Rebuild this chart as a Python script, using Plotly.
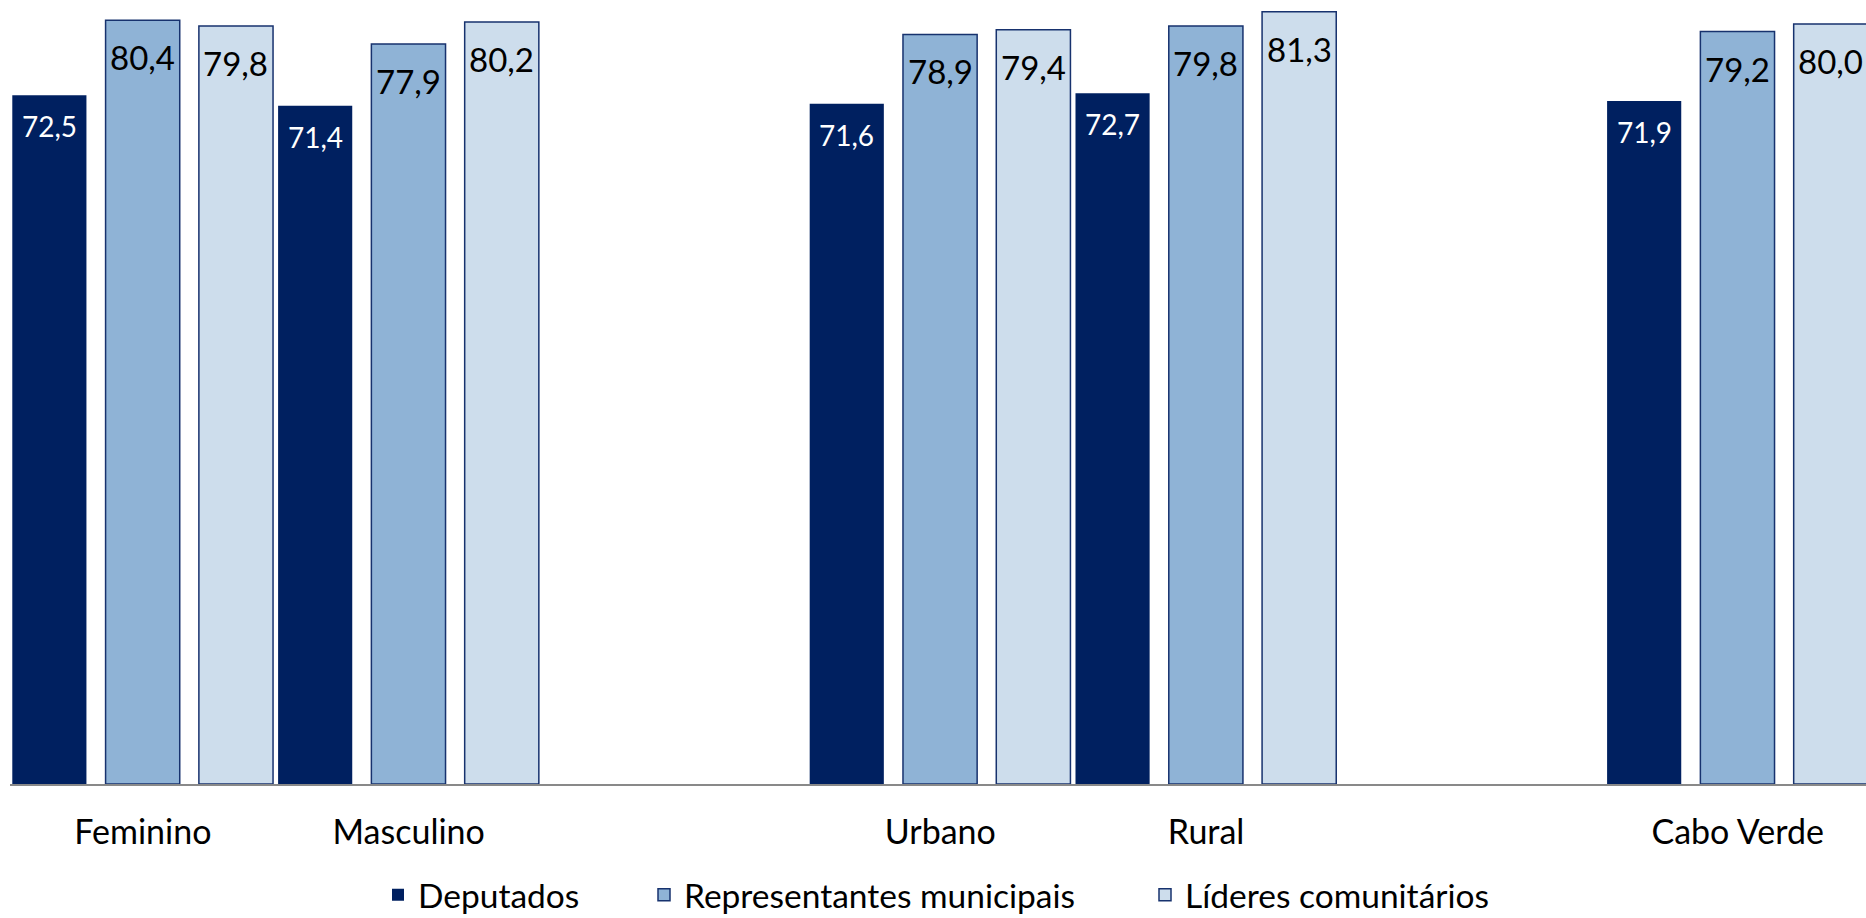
import plotly.graph_objects as go

# ---- data ----
sections = [["Feminino", "Masculino"], ["Urbano", "Rural"], ["Cabo Verde"]]
series_names = ["Deputados", "Representantes municipais", "Líderes comunitários"]
deputados = [72.5, 71.4, 71.6, 72.7, 71.9]
representantes = [80.4, 77.9, 78.9, 79.8, 79.2]
lideres = [79.8, 80.2, 79.4, 81.3, 80.0]

# ---- layout helpers ----
groups = []
positions = []
p = 0
for sec in sections:
    for g in sec:
        groups.append(g)
        positions.append(p)
        p += 1
    p += 1  # empty slot between sections

W, H = 1866, 918
ML = 10
CAT_PX = 265.8
x_max = -0.5 + (W - ML) / CAT_PX
PLOT_H = 783.6
y_max = PLOT_H / 9.495

bar_w = 0.279
stride = 0.351
start = -0.4914

FONT = "Lato"
fills = ["#002060", "#8FB3D6", "#CDDDEC"]
lines = ["#002060", "#17326E", "#17326E"]
line_w = [0, 1.5, 1.5]
label_colors = ["#FFFFFF", "#000000", "#000000"]
label_sizes = [28, 33, 33]
label_shift = [-12, -15, -15]
values = [deputados, representantes, lideres]
legend_ids = ["legend", "legend2", "legend3"]
legend_left_px = [378, 644, 1145]
legend_bottom_px = 923

fig = go.Figure()
annotations = []
for k, (name, vals) in enumerate(zip(series_names, values)):
    off = start + k * stride
    fig.add_trace(go.Bar(
        x=positions, y=vals, name=name,
        offset=off, width=bar_w,
        marker=dict(color=fills[k], line=dict(color=lines[k], width=line_w[k])),
        legend=legend_ids[k],
        hoverinfo="skip",
    ))
    for xp, v in zip(positions, vals):
        annotations.append(dict(
            x=xp + off + bar_w / 2, y=v, xref="x", yref="y",
            text=f"{v:.1f}".replace(".", ","),
            showarrow=False, xanchor="center", yanchor="top", yshift=label_shift[k],
            font=dict(family=FONT, size=label_sizes[k], color=label_colors[k]),
        ))

legend_common = dict(
    orientation="h", xref="container", yref="paper",
    xanchor="left", yanchor="bottom", y=-(legend_bottom_px - PLOT_H) / PLOT_H,
    font=dict(family=FONT, size=33.5, color="#000000"),
    bgcolor="rgba(0,0,0,0)", borderwidth=0,
)
layout_legends = {}
for lid, lx in zip(legend_ids, legend_left_px):
    layout_legends[lid] = dict(legend_common, x=lx / W)

fig.update_layout(
    width=W, height=H,
    margin=dict(l=ML, r=0, t=0, b=H - PLOT_H, pad=0, autoexpand=False),
    plot_bgcolor="white", paper_bgcolor="white",
    barmode="group",
    showlegend=True,
    annotations=annotations,
    xaxis=dict(
        range=[-0.5, x_max], tickmode="array", tickvals=positions, ticktext=groups,
        showline=True, linecolor="#898989", linewidth=2, showgrid=False, zeroline=False,
        ticks="", ticklabelstandoff=17,
        tickfont=dict(family=FONT, size=34, color="#000000"),
        fixedrange=True,
    ),
    yaxis=dict(range=[0, y_max], visible=False, showgrid=False, zeroline=False, fixedrange=True),
    **layout_legends,
)

fig.write_html(
    "out.html",
    config={"displayModeBar": False},
    post_script="document.body.style.margin='0';document.body.style.overflow='hidden';",
)
